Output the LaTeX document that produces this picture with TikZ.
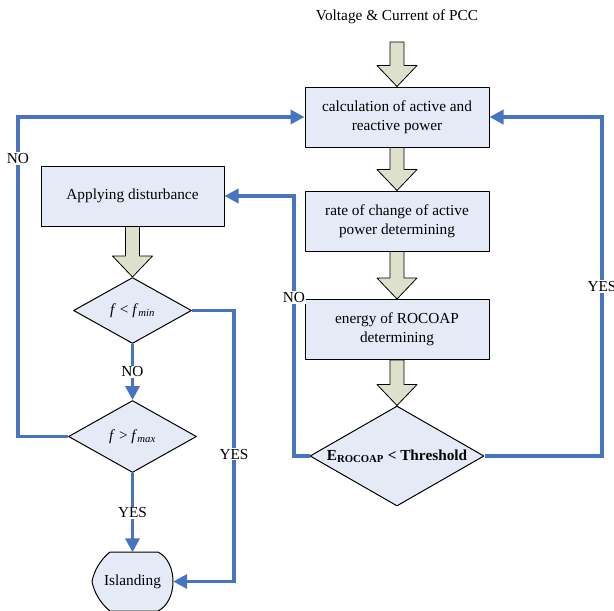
\documentclass[tikz,border=0pt]{standalone}
\usepackage{fontspec}
\setmainfont{Liberation Serif}
\usetikzlibrary{shapes.geometric,arrows.meta,calc}
\definecolor{flowblue}{RGB}{70,116,194}
\definecolor{boxfill}{RGB}{228,235,247}
\definecolor{arrfill}{RGB}{221,224,203}
\begin{document}
\begin{tikzpicture}[x=1pt,y=-1pt,line join=round,>={Triangle[length=14pt,width=14pt]},
	font=\fontsize{15.3}{19}\selectfont,
	box/.style={draw,fill=boxfill,line width=1pt,minimum width=184pt,minimum height=60pt,align=center,inner sep=0pt},
	cond/.style={draw,fill=boxfill,line width=1pt,diamond,inner sep=0pt},
	flow/.style={->,draw=flowblue,line width=3.5pt,line join=miter},
	lbl/.style={fill=white,inner sep=1pt},
	hollow/.style={draw,fill=arrfill,line width=0.8pt}]
		\useasboundingbox (0,0) rectangle (614,611);
		\def\harrow(#1)(#2){\draw[hollow] let \p1=(#1),\p2=(#2) in (\x1-7pt,\y1)--(\x1+7pt,\y1)--(\x1+7pt,\y2+21pt)--(\x1+20pt,\y2+21pt)--(\x1,\y2)--(\x1-20pt,\y2+21pt)--(\x1-7pt,\y2+21pt)--cycle;}
		\node (pcc) at (397,17) {Voltage \& Current of PCC};
		\coordinate (pccin) at (397,42);
		\node[box] (calc) at (397,117) {calculation of active and\\reactive power};
		\node[box] (rate) at (397,221) {rate of change of active\\power determining};
		\node[box] (ener) at (397,329.5) {energy of ROCOAP\\determining};
		\node[cond,aspect=1.74,minimum width=174pt,minimum height=100pt] (thr) at (397,456) {\textbf{E\textsubscript{ROCOAP} < Threshold}};
		\node[box,minimum width=183pt] (dist) at (132.5,196) {Applying disturbance};
		\node[cond,aspect=1.79,minimum width=118pt,minimum height=66pt] (fmin) at (132.5,310.5) {\textit{f} < \textit{f}\textsubscript{\textit{min}}};
		\node[cond,aspect=1.78,minimum width=128pt,minimum height=72pt] (fmax) at (132.5,436.5) {\textit{f} > \textit{f}\textsubscript{\textit{max}}};
		\draw[fill=boxfill,line width=1pt] (110,552)--(158,552) .. controls (178,562) and (178,601) .. (158,611)--(110,611) .. controls (100,603) and (94,592) .. (92,581.5) .. controls (94,571) and (100,560) .. (110,552)--cycle;
		\node[minimum width=81pt,minimum height=58pt,inner sep=0pt] (isl) at (132.5,581.5) {Islanding};
		\harrow(pccin)(calc.north)
		\harrow(calc.south)(rate.north)
		\harrow(rate.south)(ener.north)
		\harrow(ener.south)(thr.north)
		\harrow(dist.south)(fmin.north)
		\draw[flow] (thr.east)--(602,456)--node[lbl,pos=0.5]{YES}(602,117)--(calc.east);
		\draw[flow] (thr.west)--(294,456)--node[lbl,pos=0.61]{NO}(294,196)--(dist.east);
		\draw[flow] (fmax.west)--(18,436.5)--node[lbl,pos=0.87]{NO}(18,117)--(calc.west);
		\draw[flow] (fmin.east)--(234,310.5)--node[lbl,pos=0.53]{YES}(234,581.5)--(isl.east);
		\draw[flow] (fmin.south)--node[lbl]{NO}(fmax.north);
		\draw[flow] (fmax.south)--node[lbl]{YES}(isl.north);
\end{tikzpicture}
\end{document}
